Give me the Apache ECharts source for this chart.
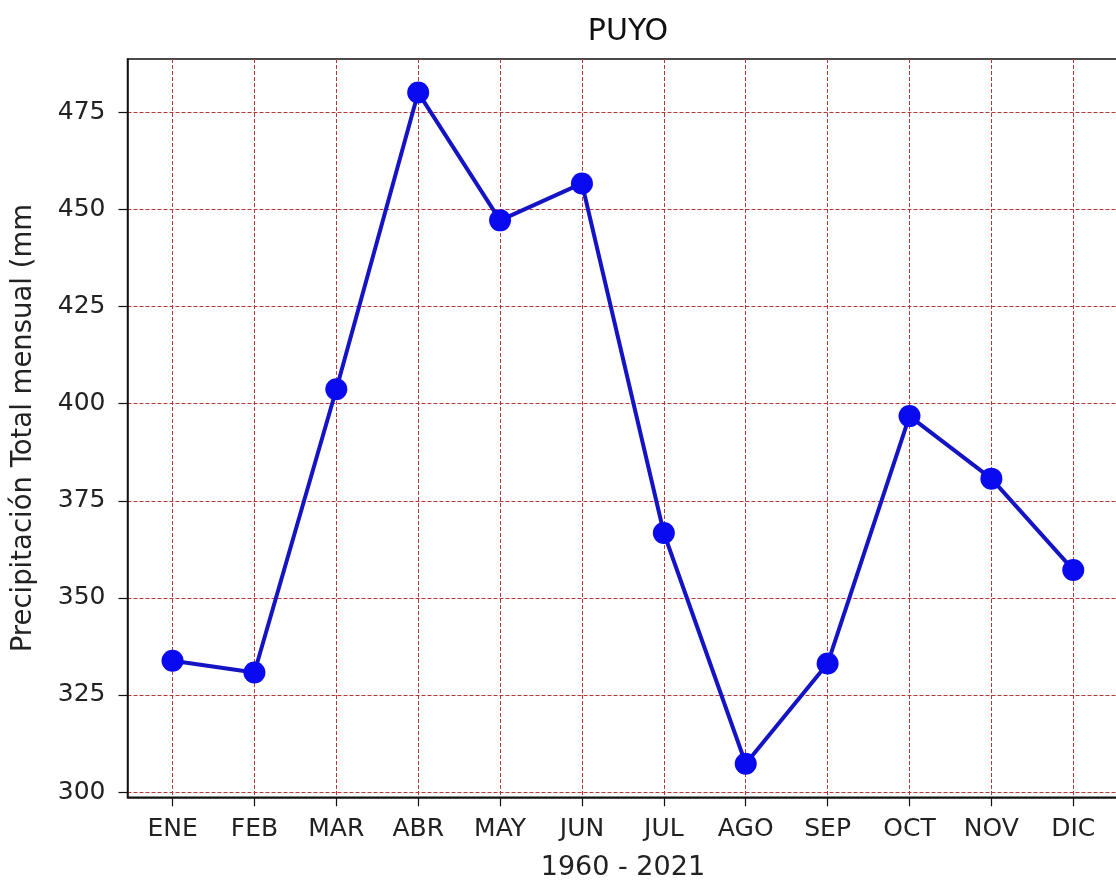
<!DOCTYPE html>
<html>
<head>
<meta charset="utf-8">
<script src="https://cdn.jsdelivr.net/npm/echarts@6/dist/echarts.min.js"></script>
<style>
  html, body { margin: 0; padding: 0; background: #fff; }
  #chart { width: 1116px; height: 880px; }
</style>
</head>
<body>
<div id="chart"></div>
<script>
// Monthly total precipitation, Puyo station, 1960 - 2021
const months = ['ENE', 'FEB', 'MAR', 'ABR', 'MAY', 'JUN', 'JUL', 'AGO', 'SEP', 'OCT', 'NOV', 'DIC'];
const precip = [333.8, 330.8, 403.7, 480.1, 447.2, 456.7, 366.7, 307.3, 333.1, 396.8, 380.7, 357.2];
const yTicks = [300, 325, 350, 375, 400, 425, 450, 475];

// 5% padding on each side, like the plotting default
const n = months.length;
const xPad = (n - 1) * 0.05;
const yMinData = Math.min(...precip), yMaxData = Math.max(...precip);
const yPad = (yMaxData - yMinData) * 0.05;

const font = 'DejaVu Sans';
const gridStyle = { color: '#b83838', width: 1, type: [4, 2] };
const monthIdx = months.map((m, i) => i);

const chart = echarts.init(document.getElementById('chart'), null, { renderer: 'canvas' });
chart.setOption({
  animation: false,
  backgroundColor: '#fff',
  title: {
    text: 'PUYO',
    left: 623,
    top: 12,
    textAlign: 'center',
    textStyle: { fontFamily: font, fontSize: 30, fontWeight: 'normal', color: '#111' }
  },
  grid: {
    left: 127.5, top: 59, width: 990.8, height: 738.3,
    outerBoundsMode: 'none', containLabel: false,
    show: true, borderColor: '#111', borderWidth: 1.5
  },
  xAxis: {
    type: 'value',
    min: -xPad,
    max: n - 1 + xPad,
    name: '1960 - 2021',
    nameLocation: 'middle',
    nameGap: 57,
    nameTextStyle: { fontFamily: font, fontSize: 27, color: '#222' },
    axisLine: { show: true, onZero: false, lineStyle: { color: '#111', width: 1.5 } },
    axisTick: { show: true, length: 9, customValues: monthIdx, lineStyle: { color: '#111', width: 1.2 } },
    axisLabel: {
      customValues: monthIdx,
      formatter: v => months[Math.round(v)] || '',
      fontFamily: font, fontSize: 25, color: '#222', margin: 20
    },
    splitLine: { show: true, lineStyle: gridStyle }
  },
  yAxis: {
    type: 'value',
    min: yMinData - yPad,
    max: yMaxData + yPad,
    name: 'Precipitación Total mensual (mm',
    nameLocation: 'middle',
    nameRotate: 90,
    nameGap: 90,
    nameTextStyle: { fontFamily: font, fontSize: 27.5, color: '#222' },
    axisLine: { show: true, onZero: false, lineStyle: { color: '#111', width: 1.5 } },
    axisTick: { show: true, length: 9, customValues: yTicks, lineStyle: { color: '#111', width: 1.2 } },
    axisLabel: {
      customValues: yTicks,
      fontFamily: font, fontSize: 25, color: '#222', margin: 22
    },
    splitLine: { show: true, lineStyle: gridStyle }
  },
  series: [{
    type: 'line',
    data: precip.map((v, i) => [i, v]),
    symbol: 'circle',
    symbolSize: 22,
    lineStyle: { color: '#1414c4', width: 4 },
    itemStyle: { color: '#0a0af0', borderWidth: 0 },
    z: 3
  }]
});
</script>
</body>
</html>
